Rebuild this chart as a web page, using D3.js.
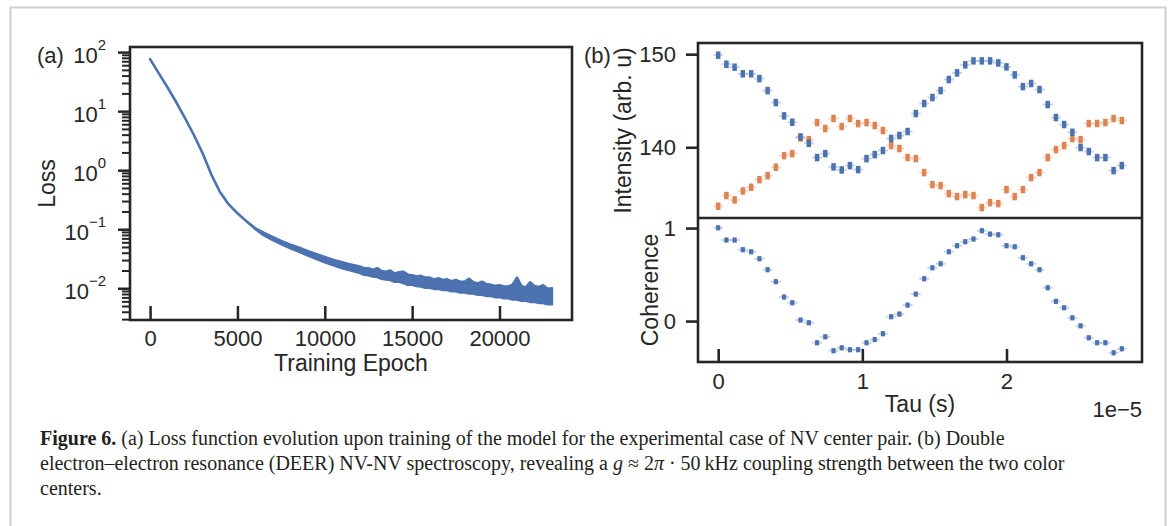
<!DOCTYPE html>
<html>
<head>
<meta charset="utf-8">
<script src="https://cdn.jsdelivr.net/npm/d3@7/dist/d3.min.js"></script>
<style>
  body { margin: 0; background: #fff; }
  svg text { font-family: "Liberation Sans", Arial, sans-serif; fill: #262626; }
  .caption text { font-family: "Liberation Serif", "Times New Roman", serif; fill: #231f20; font-size: 20px; }
</style>
</head>
<body>
<svg id="fig" width="1168" height="526"></svg>
<script>
// ---- panel (a): training loss, log10 of the lower / upper edge of the noisy curve
var epochs = [0,500,1000,1500,2000,2500,3000,3500,4000,4500,5000,5500,6000,6500,7000,7500,8000,8500,9000,9500,
  10000,10500,11000,11500,
  12000,12250,12500,12750,13000,13250,13500,13750,14000,14250,14500,14750,15000,15250,15500,15750,
  16000,16250,16500,16750,17000,17250,17500,17750,18000,18250,18500,18750,19000,19250,19500,19750,
  20000,20250,20500,20750,21000,21250,21500,21750,22000,22250,22500,22750,23000];
var logLossLow = [1.88,1.64,1.40,1.15,0.88,0.60,0.29,-0.07,-0.37,-0.58,-0.73,-0.86,-0.99,
  -1.10,-1.18,-1.25,-1.32,-1.38,-1.44,-1.50,-1.56,-1.61,-1.66,-1.70,
  -1.74,-1.77,-1.78,-1.80,-1.81,-1.84,-1.85,-1.86,-1.89,-1.89,-1.91,-1.94,-1.94,-1.96,-1.97,-1.99,
  -1.99,-2.01,-2.01,-2.03,-2.03,-2.05,-2.05,-2.07,-2.07,-2.09,-2.09,-2.11,-2.11,-2.13,-2.13,-2.15,
  -2.15,-2.17,-2.17,-2.19,-2.19,-2.21,-2.21,-2.23,-2.23,-2.25,-2.25,-2.27,-2.27];
var logLossHigh = [1.88,1.64,1.40,1.15,0.88,0.60,0.29,-0.07,-0.37,-0.58,-0.73,-0.86,-0.98,
  -1.06,-1.13,-1.20,-1.26,-1.31,-1.37,-1.42,-1.47,-1.52,-1.56,-1.60,
  -1.63,-1.66,-1.66,-1.69,-1.66,-1.71,-1.72,-1.70,-1.75,-1.73,-1.72,-1.77,-1.78,-1.80,-1.79,-1.82,
  -1.82,-1.85,-1.83,-1.86,-1.85,-1.88,-1.86,-1.89,-1.89,-1.84,-1.90,-1.92,-1.89,-1.93,-1.94,-1.96,
  -1.95,-1.97,-1.97,-1.94,-1.82,-1.96,-1.99,-1.90,-1.96,-1.98,-1.95,-2.01,-2.00];
var epochTicks = [0,5000,10000,15000,20000];
var lossDecades = [-2,-1,0,1,2];
var lossLimits = [0.0029, 122];

// ---- panel (b): DEER, tau in units of 1e-5 s
var tau = [0,0.057,0.114,0.171,0.229,0.286,0.343,0.400,0.457,0.514,0.571,0.629,0.686,0.743,0.800,0.857,0.914,0.971,
  1.029,1.086,1.143,1.200,1.257,1.314,1.371,1.429,1.486,1.543,1.600,1.657,1.714,1.771,1.829,1.886,1.943,2.000,
  2.057,2.114,2.171,2.229,2.286,2.343,2.400,2.457,2.514,2.571,2.629,2.686,2.743,2.800];
var intensityBlue = [149.89,148.92,148.60,147.89,147.89,147.38,146.09,144.80,143.37,142.69,
  141.11,140.43,138.89,139.32,137.89,137.56,138.03,137.60,138.78,139.21,
  139.65,140.94,141.26,141.69,143.62,144.70,145.34,146.09,147.28,147.99,
  148.85,149.28,149.28,149.28,149.06,148.63,147.77,146.52,146.85,146.20,
  144.59,143.19,142.44,141.61,139.97,139.54,138.89,138.89,137.49,138.03];
var intensityOrange = [133.66,134.81,134.34,135.30,135.70,136.52,136.95,137.85,139.10,139.32,
  141.00,140.82,142.65,142.01,143.09,142.23,143.09,142.54,142.65,142.33,
  141.80,140.18,139.86,138.89,138.78,137.28,135.99,135.88,135.02,134.70,
  134.91,134.81,133.52,134.05,133.95,135.45,134.70,135.45,136.74,137.28,
  138.89,139.75,140.18,140.94,140.82,142.55,142.55,142.65,143.09,142.87];
var coherence = [1.003,0.871,0.871,0.767,0.745,0.670,0.552,0.423,0.258,0.197,
  0.011,-0.018,-0.233,-0.169,-0.319,-0.287,-0.308,-0.308,-0.233,-0.199,
  -0.136,0.047,0.075,0.172,0.290,0.455,0.573,0.616,0.745,0.810,
  0.853,0.882,0.971,0.935,0.928,0.810,0.799,0.681,0.616,0.552,
  0.358,0.212,0.143,0.035,-0.051,-0.180,-0.233,-0.233,-0.341,-0.298];
var tauTicks = [0,1,2];
var intensityTicks = [140,150];
var coherenceTicks = [0,1];
var tauLimits = [-0.14, 2.94];
var intensityLimits = [132.4, 151.2];
var coherenceLimits = [-0.44, 1.108];

var captionLines = [
  ["Figure 6.", " (a) Loss function evolution upon training of the model for the experimental case of NV center pair. (b) Double"],
  ["", "electron\u2013electron resonance (DEER) NV-NV spectroscopy, revealing a "],
  ["", "centers."]
];

var blue = "#4c72b0", orange = "#dd8452", ink = "#262626";

var svg = d3.select("#fig");

// light frame around the figure
svg.append("rect")
  .attr("x", 10.5).attr("y", 7.5).attr("width", 1155).attr("height", 540)
  .attr("fill", "none").attr("stroke", "#cfcfcf").attr("stroke-width", 2);

function styleAxis(g, w) {
  g.select(".domain").remove();
  g.selectAll(".tick line").attr("stroke", ink).attr("stroke-width", w);
  g.selectAll(".tick text").style("font-size", "22px").attr("fill", ink);
}

// ================= panel (a) =================
var a = {left: 130, right: 572, top: 47, bottom: 320};
var xa = d3.scaleLinear().domain([-1150, 24150]).range([a.left, a.right]);
var ya = d3.scaleLog().domain(lossLimits).range([a.bottom, a.top]);

var area = d3.area()
  .x(function(d, i) { return xa(epochs[i]); })
  .y0(function(d, i) { return ya(Math.pow(10, logLossLow[i])); })
  .y1(function(d, i) { return ya(Math.pow(10, logLossHigh[i])); });

svg.append("path")
  .datum(epochs)
  .attr("d", area)
  .attr("fill", blue)
  .attr("stroke", blue)
  .attr("stroke-width", 2.6)
  .attr("stroke-linejoin", "round")
  .attr("stroke-linecap", "round");

// x axis, ticks pointing in
var gxa = svg.append("g")
  .attr("transform", "translate(0," + a.bottom + ")")
  .call(d3.axisBottom(xa).tickValues(epochTicks).tickSize(-14).tickPadding(10).tickFormat(d3.format("d")));
styleAxis(gxa, 2.5);

// log y axis: major + minor ticks
var minor = [];
for (var k = -3; k <= 2; k++) for (var m = 2; m <= 9; m++) {
  var v = m * Math.pow(10, k);
  if (v > lossLimits[0] && v < lossLimits[1]) minor.push(v);
}
var gyaMinor = svg.append("g")
  .attr("transform", "translate(" + a.left + ",0)")
  .call(d3.axisLeft(ya).tickValues(minor).tickSize(8).tickFormat(""));
styleAxis(gyaMinor, 2);
var gya = svg.append("g")
  .attr("transform", "translate(" + a.left + ",0)")
  .call(d3.axisLeft(ya).tickValues(lossDecades.map(function(e) { return Math.pow(10, e); })).tickSize(12).tickFormat(""));
styleAxis(gya, 2.5);

var decadeLabels = svg.append("g");
lossDecades.forEach(function(e) {
  var yy = ya(Math.pow(10, e));
  var t = decadeLabels.append("text")
    .attr("text-anchor", "end")
    .attr("x", a.left - 24)
    .attr("y", yy + 11)
    .style("font-size", "22px");
  t.append("tspan").text("10");
  t.append("tspan")
    .attr("dy", -13)
    .style("font-size", "15px")
    .text(e < 0 ? "\u2212" + (-e) : String(e));
});

svg.append("rect")
  .attr("x", a.left).attr("y", a.top)
  .attr("width", a.right - a.left).attr("height", a.bottom - a.top)
  .attr("fill", "none").attr("stroke", ink).attr("stroke-width", 2.6);

svg.append("text")
  .attr("x", (a.left + a.right) / 2).attr("y", 371)
  .attr("text-anchor", "middle").style("font-size", "23px")
  .text("Training Epoch");
svg.append("text")
  .attr("transform", "translate(55," + (a.top + a.bottom) / 2 + ") rotate(-90)")
  .attr("text-anchor", "middle").style("font-size", "23px")
  .text("Loss");
svg.append("text")
  .attr("x", 37).attr("y", 63).style("font-size", "22px").text("(a)");

// ================= panel (b) =================
var b = {left: 698, right: 1142, top: 43, mid: 218, bottom: 362};
var xb = d3.scaleLinear().domain(tauLimits).range([b.left, b.right]);
var yTop = d3.scaleLinear().domain(intensityLimits).range([b.mid, b.top]);
var yBot = d3.scaleLinear().domain(coherenceLimits).range([b.bottom, b.mid]);

function drawMarkers(sel, xs, ys, xScale, yScale, color, w, h) {
  var g = sel.append("g");
  // faint caps behind the marker
  g.selectAll("line").data(ys).enter().append("line")
    .attr("x1", function(d, i) { return xScale(xs[i]) - 5; })
    .attr("x2", function(d, i) { return xScale(xs[i]) + 5; })
    .attr("y1", function(d) { return yScale(d); })
    .attr("y2", function(d) { return yScale(d); })
    .attr("stroke", color).attr("stroke-width", 2).attr("opacity", 0.3);
  g.selectAll("rect").data(ys).enter().append("rect")
    .attr("x", function(d, i) { return xScale(xs[i]) - w / 2; })
    .attr("y", function(d) { return yScale(d) - h / 2; })
    .attr("width", w).attr("height", h)
    .attr("fill", color);
}

drawMarkers(svg, tau, intensityOrange, xb, yTop, orange, 4.5, 7.5);
drawMarkers(svg, tau, intensityBlue, xb, yTop, blue, 4.5, 7.5);
drawMarkers(svg, tau, coherence, xb, yBot, blue, 4.2, 5.2);

var gyTop = svg.append("g")
  .attr("transform", "translate(" + b.left + ",0)")
  .call(d3.axisLeft(yTop).tickValues(intensityTicks).tickSize(12).tickPadding(10).tickFormat(d3.format("d")));
styleAxis(gyTop, 2.6);
var gyBot = svg.append("g")
  .attr("transform", "translate(" + b.left + ",0)")
  .call(d3.axisLeft(yBot).tickValues(coherenceTicks).tickSize(12).tickPadding(10).tickFormat(d3.format("d")));
styleAxis(gyBot, 2.6);
var gxb = svg.append("g")
  .attr("transform", "translate(0," + b.bottom + ")")
  .call(d3.axisBottom(xb).tickValues(tauTicks).tickSize(-13).tickPadding(11).tickFormat(d3.format("d")));
styleAxis(gxb, 2.6);

svg.append("rect")
  .attr("x", b.left).attr("y", b.top)
  .attr("width", b.right - b.left).attr("height", b.bottom - b.top)
  .attr("fill", "none").attr("stroke", ink).attr("stroke-width", 2.6);
svg.append("line")
  .attr("x1", b.left).attr("x2", b.right).attr("y1", b.mid).attr("y2", b.mid)
  .attr("stroke", ink).attr("stroke-width", 2.6);

svg.append("text")
  .attr("x", (b.left + b.right) / 2).attr("y", 412)
  .attr("text-anchor", "middle").style("font-size", "23px")
  .text("Tau (s)");
svg.append("text")
  .attr("x", b.right).attr("y", 417)
  .attr("text-anchor", "end").style("font-size", "22px")
  .text("1e\u22125");
svg.append("text")
  .attr("transform", "translate(631," + (b.top + b.mid) / 2 + ") rotate(-90)")
  .attr("text-anchor", "middle").style("font-size", "23px")
  .text("Intensity (arb. u)");
svg.append("text")
  .attr("transform", "translate(658," + (b.mid + b.bottom) / 2 + ") rotate(-90)")
  .attr("text-anchor", "middle").style("font-size", "23px")
  .text("Coherence");
svg.append("text")
  .attr("x", 584).attr("y", 63).style("font-size", "22px").text("(b)");

// ================= caption =================
var cap = svg.append("g").attr("class", "caption");
captionLines.forEach(function(line, i) {
  var t = cap.append("text").attr("x", 40).attr("y", 445 + i * 25);
  if (line[0]) t.append("tspan").style("font-weight", "bold").text(line[0]);
  t.append("tspan").text(line[1]);
  if (i === 1) {
    t.append("tspan").style("font-style", "italic").text("g");
    t.append("tspan").text(" \u2248 2");
    t.append("tspan").style("font-style", "italic").text("\u03c0");
    t.append("tspan").text("  \u00b7 50\u2009kHz coupling strength between the two color");
  }
});
</script>
</body>
</html>
